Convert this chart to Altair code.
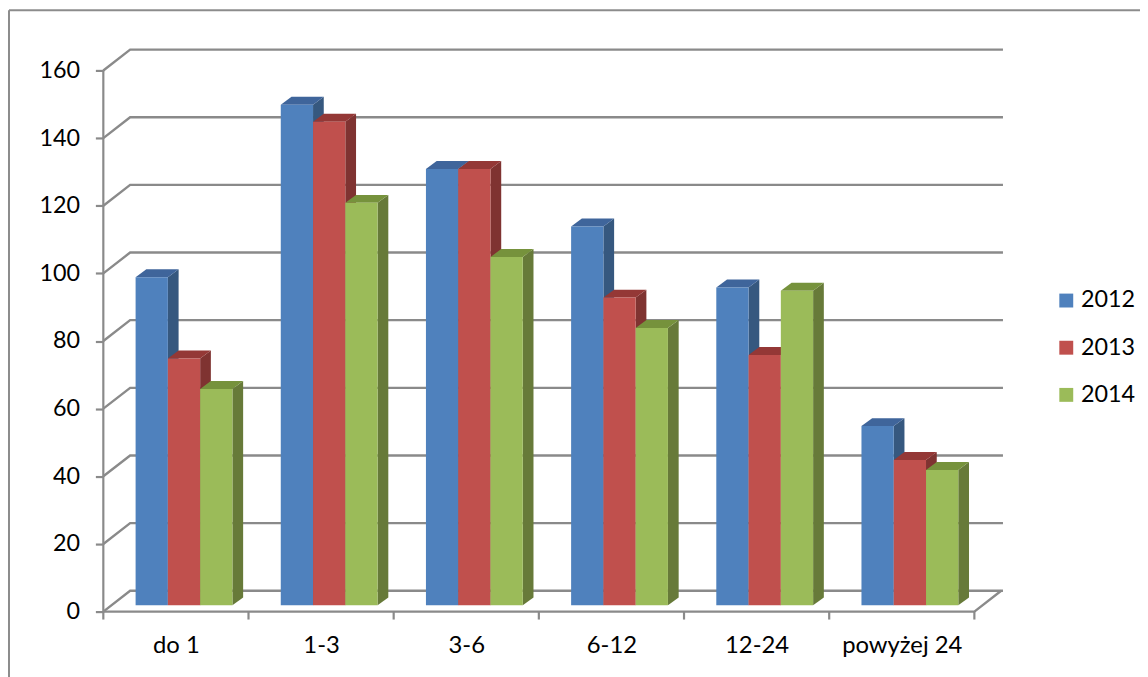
import altair as alt
import pandas as pd

categories = ["do 1", "1-3", "3-6", "6-12", "12-24", "powyżej 24"]
years = ["2012", "2013", "2014"]
values_2012 = [97, 148, 129, 112, 94, 53]
values_2013 = [73, 143, 129, 91, 74, 43]
values_2014 = [64, 119, 103, 82, 93, 40]
y_ticks = [0, 20, 40, 60, 80, 100, 120, 140, 160]
front = ["#4F81BD", "#C0504D", "#9BBB59"]
side = ["#36587F", "#7F3331", "#677A39"]
top = ["#3F659B", "#943836", "#76923C"]
series = [values_2012, values_2013, values_2014]

PX_X = 146.2      # px per category
PX_Y = 3.406      # px per value unit
WIDTH, HEIGHT = 906, 568
xmax = WIDTH / PX_X
ymax = HEIGHT / PX_Y
wall_dx = 27 / PX_X
wall_dy = 21 / PX_Y
bar_start = 32.5 / PX_X
bar_w = 32.5 / PX_X
bar_dx = 10.8 / PX_X
bar_dy = 8 / PX_Y
base = 6.3 / PX_Y

fronts, sides, tops = [], [], []
for s, yr in enumerate(years):
    for c, cat in enumerate(categories):
        v = series[s][c] + base
        l = c + bar_start + s * bar_w
        r = l + bar_w
        key = f"{yr}-{cat}"
        fronts.append(dict(year=yr, cat=cat, l=l, r=r, y0=base, y1=v))
        for px, a, b in [(r, base, v), (r + bar_dx, base + bar_dy, v + bar_dy)]:
            sides.append(dict(key=key, x=px, a=a, b=b, col=side[s]))
        for px, a, b in [(l, v, v), (l + bar_dx, v, v + bar_dy), (r, v, v + bar_dy), (r + bar_dx, v + bar_dy, v + bar_dy)]:
            tops.append(dict(key=key, x=px, a=a, b=b, col=top[s]))

grid = []
for t in y_ticks:
    for i, (px, py) in enumerate([(0, t), (wall_dx, t + wall_dy), (xmax, t + wall_dy)]):
        grid.append(dict(g=f"t{t}", i=i, x=px, y=py))
for i, (px, py) in enumerate([(0, 0), (len(categories), 0), (len(categories) + wall_dx, wall_dy)]):
    grid.append(dict(g="floor", i=i, x=px, y=py))

xs = alt.Scale(domain=[0, xmax], nice=False, zero=False)
ys = alt.Scale(domain=[0, ymax], nice=False, zero=False)
GRAY = "#8A8A8A"
FONT = "Lato"
FS = 23.5

lab_expr = "[" + ",".join(f"'{c}'" for c in categories) + "][floor(datum.value)]"
x_axis = alt.Axis(values=[i + 0.5 for i in range(len(categories))], labelExpr=lab_expr, ticks=False,
                  domain=False, grid=False, title=None, labelFont=FONT, labelFontSize=24, labelColor="#000000",
                  labelPadding=22, labelAngle=0, labelBaseline="top", labelFlush=False,
                  labelOverlap=False)
y_axis = alt.Axis(values=y_ticks, domain=False, grid=False, title=None, tickColor=GRAY, tickWidth=2.2,
                  tickSize=8, labelFont=FONT, labelFontSize=FS, labelColor="#000000", labelPadding=16)

lines = alt.Chart(pd.DataFrame(grid)).mark_line(color=GRAY, strokeWidth=2.4, interpolate="linear").encode(
    x=alt.X("x:Q", scale=xs, axis=x_axis),
    y=alt.Y("y:Q", scale=ys, axis=y_axis),
    detail="g:N",
    order="i:Q",
)
y_line = alt.Chart(pd.DataFrame({"x": [0], "y": [0], "y2": [160]})).mark_rule(color=GRAY, strokeWidth=2.2).encode(
    x=alt.X("x:Q", scale=xs), y=alt.Y("y:Q", scale=ys), y2="y2:Q")
x_ticks = alt.Chart(pd.DataFrame({"x": list(range(len(categories) + 1))})).mark_rule(color=GRAY, strokeWidth=2.2).encode(
    x=alt.X("x:Q", scale=xs), y=alt.value(HEIGHT), y2=alt.value(HEIGHT + 8))


def face(rows):
    return alt.Chart(pd.DataFrame(rows)).mark_area(interpolate="linear").encode(
        x=alt.X("x:Q", scale=xs),
        y=alt.Y("a:Q", scale=ys),
        y2="b:Q",
        detail="key:N",
        fill=alt.Fill("col:N", scale=None),
    )


bars = alt.Chart(pd.DataFrame(fronts)).mark_rect().encode(
    x=alt.X("l:Q", scale=xs),
    x2="r:Q",
    y=alt.Y("y0:Q", scale=ys),
    y2="y1:Q",
    color=alt.Color(
        "year:N",
        scale=alt.Scale(domain=years, range=front),
        legend=alt.Legend(
            orient="none", legendX=958, legendY=243, title=None, symbolType="square", symbolSize=196,
            symbolStrokeWidth=0, labelFont=FONT, labelFontSize=FS, labelColor="#000000", labelOffset=3,
            rowPadding=22.5, padding=0,
        ),
    ),
)

frame_left = alt.Chart().mark_rule(color="#8C8C8C", strokeWidth=2).encode(
    x=alt.value(-95), y=alt.value(-37.5), y2=alt.value(640))
frame_top = alt.Chart().mark_rule(color="#8C8C8C", strokeWidth=2).encode(
    x=alt.value(-95), x2=alt.value(1045), y=alt.value(-37.5))

chart = alt.layer(frame_left, frame_top, lines, y_line, x_ticks, face(sides), face(tops), bars).properties(
    width=WIDTH, height=HEIGHT, autosize="none",
    padding={"left": 96, "top": 37.5, "right": 138, "bottom": 63.5},
    background="#FFFFFF",
).configure_view(strokeWidth=0)

chart.save("out.html", embed_options={"renderer": "svg", "actions": False})
